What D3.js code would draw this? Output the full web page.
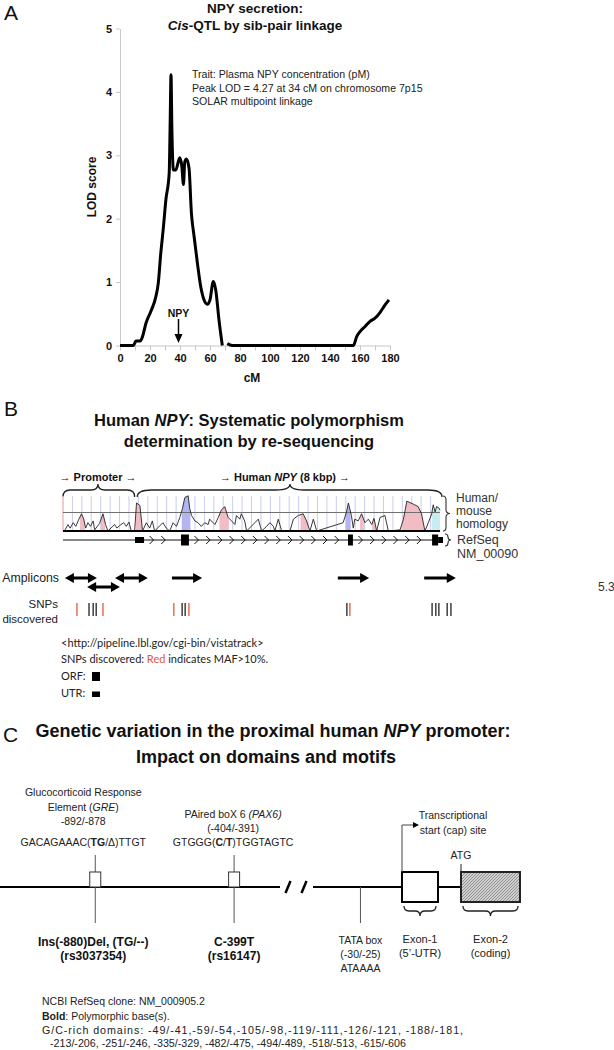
<!DOCTYPE html>
<html><head><meta charset="utf-8">
<script src="https://cdn.jsdelivr.net/npm/d3@7"></script>
<style>body{margin:0;background:#fff} svg{display:block}</style>
</head><body><svg id="fig" width="614" height="1050"></svg>
<script>
const FONT = '"Liberation Sans", Arial, Helvetica, sans-serif';
const FONT2 = 'Lato, "Open Sans", sans-serif';

// ---------------- Panel A data ----------------
const lodCM    = [0, 9, 10.6, 13.5, 15, 17.3, 20.6, 23.9, 25.5, 27.2, 28.8, 30.6, 32.8, 33.5, 34, 34.6, 35.6, 37.2, 39.8, 41.2, 42.3, 43.2, 44.3, 46, 47.6, 49.4, 51.6, 53.8, 56, 58.2, 60, 62.2, 63.8, 66, 68.2, 69.5, 71.5, 74.8, 155.6, 157.8, 160, 163.4, 166.7, 170, 173.3, 176.7, 179.3];
const lodScore = [0, 0, 0.07, 0.07, 0.14, 0.35, 0.54, 0.77, 0.98, 1.46, 1.83, 2.3, 2.72, 3.6, 4.27, 3.4, 2.77, 2.77, 2.96, 2.83, 2.54, 2.9, 2.94, 2.8, 2.09, 1.72, 1.3, 0.93, 0.72, 0.65, 0.72, 1.01, 0.88, 0.4, 0, null, 0.03, 0, 0, 0.14, 0.22, 0.3, 0.38, 0.43, 0.52, 0.64, 0.72];
const lodYTicks = [0, 1, 2, 3, 4, 5];
const lodXTicks = [0, 10, 20, 30, 40, 50, 60, 70, 80, 90, 100, 110, 120, 130, 140, 150, 160, 170, 180];
const npyLocusCM = 39;
const annotA = ["Trait: Plasma NPY concentration (pM)", "Peak LOD = 4.27 at 34 cM on chromosome 7p15", "SOLAR multipoint linkage"];

// ---------------- Panel B data ----------------
const homKb  = [0, 0.04, 0.13, 0.19, 0.27, 0.34, 0.40, 0.49, 0.55, 0.60, 0.66, 0.73, 0.80, 0.84, 0.97, 1.06, 1.13, 1.19, 1.37, 1.43, 1.50, 1.61, 1.68, 1.75, 1.81, 1.90, 1.95, 2.04, 2.11, 2.21, 2.30, 2.37, 2.43, 2.65, 2.74, 2.83, 2.92, 3.01, 3.10, 3.17, 3.23, 3.32, 3.36, 3.41, 3.50, 3.58, 3.67, 3.76, 3.85, 3.89, 4.03, 4.12, 4.20, 4.29, 4.38, 4.47, 4.56, 4.60, 4.69, 4.73, 4.82, 4.87, 5.09, 5.18, 5.27, 5.40, 5.49, 5.58, 5.62, 5.71, 5.80, 6.02, 6.11, 6.24, 6.37, 6.46, 6.55, 6.64, 6.73, 7.43, 7.52, 7.57, 7.65, 7.70, 7.74, 7.83, 7.92, 8.01, 8.10, 8.19, 8.25, 8.32, 8.41, 8.54, 8.63, 8.94, 9.03, 9.12, 9.29, 9.42, 9.51, 9.60, 9.69, 9.78, 9.82, 9.87, 9.91, 9.98, 10.0];
const homPct = [50, 50, 58.7, 53.9, 61.2, 56.3, 63.6, 73.3, 66.0, 53.9, 61.2, 56.3, 63.6, 51.5, 60.2, 73.3, 58.7, 50, 58.7, 53.9, 57.3, 61.2, 56.3, 62.1, 50, 50, 87.9, 84.5, 50, 61.2, 53.9, 63.6, 50, 61.2, 53.9, 50, 61.2, 56.3, 68.4, 80.6, 95.1, 97.6, 80.6, 70.9, 63.6, 61.2, 56.3, 61.2, 58.7, 66.0, 58.7, 68.4, 78.2, 83.0, 68.4, 63.6, 58.7, 70.9, 66.0, 73.3, 63.6, 50, 61.2, 66.0, 50, 56.3, 61.2, 56.3, 50, 66.0, 50, 50, 66.0, 70.9, 73.3, 63.6, 50, 66, 50, 61.2, 75.7, 87.9, 70.9, 53.9, 66.0, 63.6, 73.3, 61.2, 66.0, 58.7, 67.0, 50, 68.4, 70.9, 50, 51.5, 66.0, 90.3, 86.4, 83.0, 73.3, 50, 61.2, 73.3, 85.4, 75.7, 83.0, 80.6, 78];
const consNoncoding = [[0.45, 0.58], [1.0, 1.12], [1.93, 2.11], [4.15, 4.40], [6.30, 6.50], [7.88, 7.98], [8.20, 8.30], [8.98, 9.58]];
const consExon = [[3.15, 3.38], [7.50, 7.63]];
const consUTR = [[9.78, 10.0]];
const exonStart = [1.91, 3.13, 7.56, 9.79, 9.95];
const exonEnd   = [2.15, 3.34, 7.69, 9.95, 10.08];
const exonKind  = ["UTR", "ORF", "ORF", "ORF", "UTR"];
const ampStart = [0.05, 0.64, 1.38, 2.89, 7.29, 9.58];
const ampEnd   = [0.90, 1.51, 2.25, 3.69, 8.12, 10.42];
const ampRow   = [0, 1, 0, 0, 0, 0];
const ampBoth  = [true, true, true, false, false, false];
const snpKb    = [0.37, 0.69, 0.80, 0.88, 1.06, 2.94, 3.16, 3.24, 3.34, 7.53, 7.61, 9.79, 9.89, 9.97, 10.19, 10.29];
const snpMAF10 = [true, false, false, false, true, true, false, false, true, false, true, false, false, false, false, false];

// ---------------- Panel C data ----------------
const promFeatBp   = [-880, -399];
const tataBp = -28;
const exonC = [[0, 60, "Exon-1", "(5\u2019-UTR)"], [80, 180, "Exon-2", "(coding)"]];
const gcRich1 = "G/C-rich domains: -49/-41,-59/-54,-105/-98,-119/-111,-126/-121, -188/-181,";
const gcRich2 = "-213/-206, -251/-246, -335/-329, -482/-475, -494/-489, -518/-513, -615/-606";

// ---------------- helpers ----------------
const svg = d3.select("#fig");
svg.append("rect").attr("width", 614).attr("height", 1050).attr("fill", "#fff");

function rich(g, x, y, parts, o = {}) {
  const t = g.append("text").attr("x", x).attr("y", y)
    .attr("font-family", o.family || FONT).attr("font-size", o.size || 11)
    .attr("font-weight", o.weight || "normal").attr("fill", o.fill || "#222")
    .attr("text-anchor", o.anchor || "start");
  if (o.rotate) t.attr("transform", `rotate(${o.rotate},${x},${y})`);
  if (o.len) t.attr("textLength", o.len).attr("lengthAdjust", "spacing");
  (typeof parts === "string" ? [[parts, {}]] : parts).forEach(([s, st]) => {
    const ts = t.append("tspan").text(s);
    if (st.b) ts.attr("font-weight", "bold");
    if (st.i) ts.attr("font-style", "italic");
    if (st.fill) ts.attr("fill", st.fill);
  });
  return t;
}
function hBrace(x1, x2, xm, y0, yb, yp, r) {
  return `M${x1},${y0} Q${x1},${yb} ${x1 + r},${yb} L${xm - r},${yb} Q${xm},${yb} ${xm},${yp} Q${xm},${yb} ${xm + r},${yb} L${x2 - r},${yb} Q${x2},${yb} ${x2},${y0}`;
}
function vBrace(x0, y1, y2, ym, xb, xp, r) {
  return `M${x0},${y1} Q${xb},${y1} ${xb},${y1 + r} L${xb},${ym - r} Q${xb},${ym} ${xp},${ym} Q${xb},${ym} ${xb},${ym + r} L${xb},${y2 - r} Q${xb},${y2} ${x0},${y2}`;
}

rich(svg, 4, 20, "A", { size: 21, fill: "#111" });
rich(svg, 4, 416, "B", { size: 21, fill: "#111" });
rich(svg, 3, 742, "C", { size: 21, fill: "#111" });

// ================= Panel A =================
const gA = svg.append("g");
const xA = d3.scaleLinear().domain([0, 180]).range([120, 390]);
const yA = d3.scaleLinear().domain([0, 5]).range([345.5, 28.5]);

const axY = gA.append("g").attr("transform", "translate(120,0)")
  .call(d3.axisLeft(yA).tickValues(lodYTicks).tickFormat(d3.format("d")).tickSize(4).tickSizeOuter(0).tickPadding(4));
const axX = gA.append("g").attr("transform", "translate(0,345.5)")
  .call(d3.axisBottom(xA).tickValues(lodXTicks).tickFormat(d => d % 20 === 0 ? d : "").tickSize(5).tickSizeOuter(0).tickPadding(4));
[axY, axX].forEach(a => {
  a.attr("font-family", FONT).attr("font-size", 11).attr("font-weight", "bold");
  a.select(".domain").attr("stroke", "#c8c8c8");
  a.selectAll(".tick line").attr("stroke", "#c8c8c8");
  a.selectAll(".tick text").attr("fill", "#111");
});

const lodPts = lodCM.map((c, i) => [c, lodScore[i]]);
gA.append("path").datum(lodPts)
  .attr("d", d3.line().defined(d => d[1] != null).x(d => xA(d[0])).y(d => yA(d[1])).curve(d3.curveMonotoneX))
  .attr("fill", "none").attr("stroke", "#000").attr("stroke-width", 3).attr("stroke-linejoin", "round");

rich(gA, 96, 187, "LOD score", { size: 12, weight: "bold", anchor: "middle", rotate: -90, fill: "#111" });
rich(gA, 252, 382, "cM", { size: 12, weight: "bold", anchor: "middle", fill: "#111" });
rich(gA, 255, 13, "NPY secretion:", { size: 13.5, weight: "bold", anchor: "middle", fill: "#111" });
rich(gA, 255, 30, [["Cis", { i: true }], ["-QTL by sib-pair linkage", {}]], { size: 13.5, weight: "bold", anchor: "middle", fill: "#111" });
annotA.forEach((s, i) => rich(gA, 192, [78, 92, 105][i], s, { size: 10.6, fill: "#222" }));

const nx = xA(npyLocusCM);
rich(gA, nx, 317, "NPY", { size: 10.5, weight: "bold", anchor: "middle", fill: "#111" });
gA.append("line").attr("x1", nx).attr("x2", nx).attr("y1", 319).attr("y2", 335).attr("stroke", "#000").attr("stroke-width", 1.5);
gA.append("path").attr("d", `M${nx - 4},334 L${nx + 4},334 L${nx},343 Z`).attr("fill", "#000");

// ================= Panel B =================
const gB = svg.append("g");
rich(gB, 249, 426, [["Human ", {}], ["NPY", { i: true }], [": Systematic polymorphism", {}]], { size: 16.5, weight: "bold", anchor: "middle", fill: "#111" });
rich(gB, 249, 447, "determination by re-sequencing", { size: 16.5, weight: "bold", anchor: "middle", fill: "#111" });

const xB = d3.scaleLinear().domain([0, 10]).range([63, 440]);
const yB = d3.scaleLinear().domain([50, 100]).range([531, 494]);

rich(gB, 98, 481, "\u2192 Promoter \u2192", { size: 11, weight: "bold", anchor: "middle", fill: "#111" });
rich(gB, 285, 481, [["\u2192 Human ", {}], ["NPY", { i: true }], [" (8 kbp) \u2192", {}]], { size: 11, weight: "bold", anchor: "middle", fill: "#111" });
gB.append("path").attr("d", hBrace(xB(0), xB(1.9), 98, 497, 490, 484, 7)).attr("fill", "none").attr("stroke", "#222").attr("stroke-width", 1.3);
gB.append("path").attr("d", hBrace(xB(1.97), 442, 290, 497, 490, 484, 14)).attr("fill", "none").attr("stroke", "#222").attr("stroke-width", 1.3);

gB.selectAll(".grid").data(d3.range(0.25, 10, 0.25)).join("line")
  .attr("x1", d => xB(d)).attr("x2", d => xB(d)).attr("y1", 496).attr("y2", 531)
  .attr("stroke", "#ccccf0").attr("stroke-width", 1);
gB.append("line").attr("x1", xB(0)).attr("x2", xB(0)).attr("y1", 496).attr("y2", 531).attr("stroke", "#f0b8c0").attr("stroke-width", 1.5);

const homPts = homKb.map((k, i) => [k, homPct[i]]);
const homArea = d3.area().x(d => xB(d[0])).y0(yB(50)).y1(d => yB(d[1]));
const defs = svg.append("defs");
function fillRegions(list, color, tag) {
  list.forEach((r, i) => {
    const id = `clip-${tag}-${i}`;
    defs.append("clipPath").attr("id", id).append("rect")
      .attr("x", xB(r[0])).attr("width", xB(r[1]) - xB(r[0])).attr("y", 480).attr("height", 60);
    gB.append("path").datum(homPts).attr("d", homArea).attr("fill", color).attr("clip-path", `url(#${id})`);
  });
}
fillRegions(consNoncoding, "#f2bcc4", "nc");
fillRegions(consExon, "#b4b4f0", "ex");
fillRegions(consUTR, "#c6eef0", "utr");
gB.append("line").attr("x1", xB(0)).attr("x2", xB(10)).attr("y1", yB(75)).attr("y2", yB(75)).attr("stroke", "#707070").attr("stroke-width", 1.2);
gB.append("path").datum(homPts).attr("d", d3.line().x(d => xB(d[0])).y(d => yB(d[1])))
  .attr("fill", "none").attr("stroke", "#222").attr("stroke-width", 0.9);
gB.append("line").attr("x1", xB(0)).attr("x2", xB(10)).attr("y1", 531).attr("y2", 531).attr("stroke", "#000").attr("stroke-width", 2);
gB.append("path").attr("d", vBrace(443, 496, 531, 513.5, 446, 450, 4)).attr("fill", "none").attr("stroke", "#333").attr("stroke-width", 1.1);
["Human/", "mouse", "homology"].forEach((s, i) => rich(gB, 456, [502, 515, 528][i], s, { size: 12, fill: "#333" }));

const yR = 540;
gB.append("line").attr("x1", xB(0)).attr("x2", xB(10)).attr("y1", yR).attr("y2", yR).attr("stroke", "#111").attr("stroke-width", 1);
const introns = exonStart.slice(1).map((s, i) => [exonEnd[i], s]).filter(d => d[1] - d[0] > 0.2);
introns.forEach(([a, b]) => {
  d3.range(a + 0.2, b - 0.29, 0.31).forEach(k => {
    const cx = xB(k);
    gB.append("path").attr("d", `M${cx - 2},${yR - 4} L${cx + 2},${yR} L${cx - 2},${yR + 4}`)
      .attr("fill", "none").attr("stroke", "#111").attr("stroke-width", 1);
  });
});
gB.selectAll(".exon").data(exonStart.map((s, i) => ({ s, e: exonEnd[i], k: exonKind[i] }))).join("rect")
  .attr("x", d => xB(d.s)).attr("width", d => xB(d.e) - xB(d.s))
  .attr("y", d => d.k === "ORF" ? yR - 5.5 : yR - 3).attr("height", d => d.k === "ORF" ? 11 : 6).attr("fill", "#000");
gB.append("path").attr("d", vBrace(445, 534, 546, 540, 448, 451, 3)).attr("fill", "none").attr("stroke", "#333").attr("stroke-width", 1.1);
rich(gB, 457, 544, "RefSeq", { size: 12.5, fill: "#333" });
rich(gB, 457, 558, "NM_00090", { size: 12.5, fill: "#333" });

rich(gB, 59, 582, "Amplicons", { size: 12.3, fill: "#222", anchor: "end" });
rich(gB, 598, 591, "5.3", { size: 12, fill: "#333" });
ampStart.forEach((s, i) => {
  const y = ampRow[i] === 0 ? 578 : 587;
  const x1 = xB(s), x2 = xB(ampEnd[i]);
  gB.append("line").attr("x1", ampBoth[i] ? x1 + 6 : x1).attr("x2", x2 - 6).attr("y1", y).attr("y2", y).attr("stroke", "#000").attr("stroke-width", 3);
  gB.append("path").attr("d", `M${x2 - 9},${y - 5} L${x2},${y} L${x2 - 9},${y + 5} Z`).attr("fill", "#000");
  if (ampBoth[i]) gB.append("path").attr("d", `M${x1 + 9},${y - 5} L${x1},${y} L${x1 + 9},${y + 5} Z`).attr("fill", "#000");
});

rich(gB, 58, 608, "SNPs", { size: 11.5, fill: "#222", anchor: "end" });
rich(gB, 58, 623, "discovered", { size: 11.5, fill: "#222", anchor: "end" });
gB.selectAll(".snp").data(snpKb.map((k, i) => ({ k, red: snpMAF10[i] }))).join("line")
  .attr("x1", d => xB(d.k)).attr("x2", d => xB(d.k)).attr("y1", 603).attr("y2", 616)
  .attr("stroke", d => d.red ? "#e05a3a" : "#222").attr("stroke-width", 1.3);

rich(gB, 61, 647, "<http://pipeline.lbl.gov/cgi-bin/vistatrack>", { family: FONT2, size: 11, fill: "#222" });
rich(gB, 61, 663, [["SNPs discovered: ", {}], ["Red", { fill: "#e05a3a" }], [" indicates MAF>10%.", {}]], { family: FONT2, size: 11, fill: "#222" });
rich(gB, 61, 680, "ORF:", { family: FONT2, size: 11, fill: "#222" });
rich(gB, 61, 697, "UTR:", { family: FONT2, size: 11, fill: "#222" });
gB.append("rect").attr("x", 92).attr("y", 672).attr("width", 8).attr("height", 9).attr("fill", "#000");
gB.append("rect").attr("x", 92).attr("y", 691.5).attr("width", 8).attr("height", 5.5).attr("fill", "#000");

// ================= Panel C =================
const gC = svg.append("g");
rich(gC, 273, 737, [["Genetic variation in the proximal human ", {}], ["NPY", { i: true }], [" promoter:", {}]], { size: 18, weight: "bold", anchor: "middle", fill: "#111" });
rich(gC, 266, 763, "Impact on domains and motifs", { size: 18, weight: "bold", anchor: "middle", fill: "#111" });

const xC = d3.scaleLinear().domain([-1210, -240, -60, 0, 60, 80, 180]).range([0, 280, 313, 402, 438, 461, 520]);
const yC = 887;
const pat = defs.append("pattern").attr("id", "hatch").attr("patternUnits", "userSpaceOnUse").attr("width", 3).attr("height", 3);
pat.append("rect").attr("width", 3).attr("height", 3).attr("fill", "#d0d0d0");
pat.append("path").attr("d", "M-1,1 L1,-1 M0,3 L3,0 M2,4 L4,2").attr("stroke", "#808080").attr("stroke-width", 0.8);

gC.append("line").attr("x1", xC(-1210)).attr("x2", xC(-240)).attr("y1", yC).attr("y2", yC).attr("stroke", "#000").attr("stroke-width", 2);
gC.append("line").attr("x1", xC(-60)).attr("x2", xC(80)).attr("y1", yC).attr("y2", yC).attr("stroke", "#000").attr("stroke-width", 2);
[288, 304].forEach(bx => gC.append("line").attr("x1", bx - 2.5).attr("x2", bx + 2.5).attr("y1", yC + 6).attr("y2", yC - 6).attr("stroke", "#000").attr("stroke-width", 2.5));

promFeatBp.forEach(bp => {
  const fx = xC(bp);
  gC.append("line").attr("x1", fx).attr("x2", fx).attr("y1", 855).attr("y2", 872).attr("stroke", "#555").attr("stroke-width", 1);
  gC.append("line").attr("x1", fx).attr("x2", fx).attr("y1", yC).attr("y2", 923).attr("stroke", "#555").attr("stroke-width", 1);
  gC.append("rect").attr("x", fx - 5.5).attr("y", 872).attr("width", 11).attr("height", 15).attr("fill", "#fff").attr("stroke", "#333").attr("stroke-width", 1);
});
const tx = xC(tataBp);
gC.append("line").attr("x1", tx).attr("x2", tx).attr("y1", yC).attr("y2", 923).attr("stroke", "#555").attr("stroke-width", 1);

gC.append("rect").attr("x", xC(exonC[0][0])).attr("y", 872).attr("width", xC(exonC[0][1]) - xC(exonC[0][0])).attr("height", 30).attr("fill", "#fff").attr("stroke", "#000").attr("stroke-width", 2);
gC.append("rect").attr("x", xC(exonC[1][0])).attr("y", 872).attr("width", xC(exonC[1][1]) - xC(exonC[1][0])).attr("height", 30).attr("fill", "url(#hatch)").attr("stroke", "#222").attr("stroke-width", 2);
exonC.forEach(([a, b, n1, n2]) => {
  const x1 = xC(a) + 2, x2 = xC(b) - 2;
  gC.append("path").attr("d", hBrace(x1, x2, (x1 + x2) / 2, 906, 911, 916, 5)).attr("fill", "none").attr("stroke", "#222").attr("stroke-width", 1.3);
  rich(gC, (x1 + x2) / 2, 943, n1, { size: 11, anchor: "middle", fill: "#222" });
  rich(gC, (x1 + x2) / 2, 957, n2, { size: 11, anchor: "middle", fill: "#222" });
});

const ts = xC(0);
gC.append("path").attr("d", `M${ts},872 L${ts},825 L${ts + 12},825`).attr("fill", "none").attr("stroke", "#444").attr("stroke-width", 1);
gC.append("path").attr("d", `M${ts + 11},822 L${ts + 17},825 L${ts + 11},828 Z`).attr("fill", "#000");
rich(gC, 453, 819, "Transcriptional", { size: 10.5, anchor: "middle", fill: "#222" });
rich(gC, 453, 834, "start (cap) site", { size: 10.5, anchor: "middle", fill: "#222" });
const atg = xC(80);
gC.append("line").attr("x1", atg).attr("x2", atg).attr("y1", 864).attr("y2", 872).attr("stroke", "#222").attr("stroke-width", 1);
rich(gC, atg, 859, "ATG", { size: 10.5, anchor: "middle", fill: "#222" });

const gx = xC(promFeatBp[0]) - 12, px = xC(promFeatBp[1]) - 1;
rich(gC, gx, 796, "Glucocorticoid Response", { size: 10.5, anchor: "middle" });
rich(gC, gx, 811, [["Element (", {}], ["GRE", { i: true }], [")", {}]], { size: 10.5, anchor: "middle" });
rich(gC, gx, 825, "-892/-878", { size: 10.5, anchor: "middle" });
rich(gC, gx, 846, [["GACAGAAAC(", {}], ["TG", { b: true }], ["/\u0394)TTGT", {}]], { size: 10.5, anchor: "middle" });
rich(gC, px, 818, [["PAired boX 6 ", {}], ["(PAX6)", { i: true }]], { size: 10.5, anchor: "middle" });
rich(gC, px, 832, "(-404/-391)", { size: 10.5, anchor: "middle" });
rich(gC, px, 846, [["GTGGG(", {}], ["C", { b: true }], ["/", {}], ["T", { b: true }], [")TGGTAGTC", {}]], { size: 10.5, anchor: "middle" });

rich(gC, xC(promFeatBp[0]) - 2, 946, "Ins(-880)Del, (TG/--)", { size: 12, weight: "bold", anchor: "middle", fill: "#111" });
rich(gC, xC(promFeatBp[0]) - 2, 960, "(rs3037354)", { size: 12, weight: "bold", anchor: "middle", fill: "#111" });
rich(gC, xC(promFeatBp[1]), 946, "C-399T", { size: 12, weight: "bold", anchor: "middle", fill: "#111" });
rich(gC, xC(promFeatBp[1]), 960, "(rs16147)", { size: 12, weight: "bold", anchor: "middle", fill: "#111" });
rich(gC, tx, 944, "TATA box", { size: 10.5, anchor: "middle" });
rich(gC, tx, 958, "(-30/-25)", { size: 10.5, anchor: "middle" });
rich(gC, tx, 972, "ATAAAA", { size: 10.5, anchor: "middle" });

rich(gC, 42, 1005, "NCBI RefSeq clone: NM_000905.2", { size: 10.5 });
rich(gC, 42, 1020, [["Bold", { b: true }], [": Polymorphic base(s).", {}]], { size: 10.5 });
rich(gC, 42, 1034, gcRich1, { size: 10.7, len: 421 });
rich(gC, 50, 1047, gcRich2, { size: 10.7 });
</script></body></html>
